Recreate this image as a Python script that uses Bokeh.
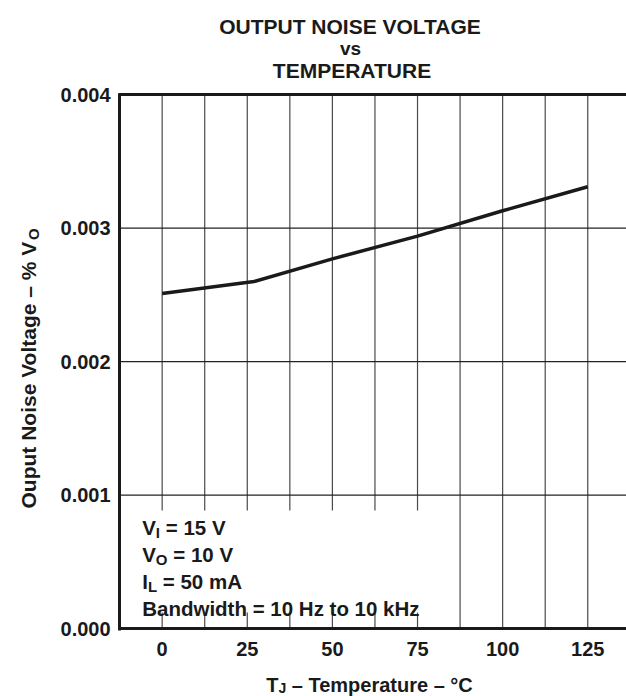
import math
from bokeh.plotting import figure
from bokeh.models import (Range1d, FixedTicker, PrintfTickFormatter, Label,
                          BoxAnnotation, LinearAxis)
from bokeh.embed import file_html
from bokeh.resources import INLINE

# ---------------- data ----------------
temperature_c = [0, 27, 50, 75, 100, 125]
noise_pct_vo = [0.00251, 0.00260, 0.00277, 0.00294, 0.00313, 0.00331]
x_major_ticks = [0, 25, 50, 75, 100, 125]
x_grid_ticks = [0, 12.5, 25, 37.5, 50, 62.5, 75, 87.5, 100, 112.5, 125, 137.5]
y_major_ticks = [0.000, 0.001, 0.002, 0.003, 0.004]
y_grid_ticks = [0.001, 0.002, 0.003]
x_lim = [-12.5, 137.5]
y_lim = [0.0, 0.004]

title_lines = ["OUTPUT NOISE VOLTAGE", "vs", "TEMPERATURE"]
cond_lines = [
    [("V", False), ("I", True), (" = 15 V", False)],
    [("V", False), ("O", True), (" = 10 V", False)],
    [("I", False), ("L", True), (" = 50 mA", False)],
    [("Bandwidth = 10 Hz to 10 kHz", False)],
]
x_label_parts = [("T", False), ("J", True), (" \u2013 Temperature \u2013 \u00b0C", False)]
y_label_parts = [("Ouput Noise Voltage \u2013 % V", False), ("O", True)]

# ---------------- layout ----------------
W, H = 626, 696
FONT = "Liberation Sans"
INK = "#1a1a1a"
PX_LEFT, SX = 119.1, 3.4048      # px of x=-12.5, px per degree
PX_BOTTOM, SY = 628.0, 133450.0  # px of y=0, px per unit

def px2x(px):
    return x_lim[0] + (px - PX_LEFT) / SX

def py2y(py):
    return (PX_BOTTOM - py) / SY

ADV = {'V': 667, ' ': 278, '=': 584, '1': 556, '5': 556, '0': 556, 'I': 278,
       'O': 778, 'L': 611, 'm': 889, 'A': 722, 'T': 611, 'J': 556, '\u2013': 556,
       'e': 556, 'p': 611, 'r': 389, 'a': 556, 't': 333, 'u': 611, '\u00b0': 400,
       'C': 722, 'N': 722, 'o': 611, 'i': 278, 's': 556, 'l': 278, 'g': 611,
       '%': 889, 'B': 722, 'n': 611, 'd': 611, 'w': 778, 'h': 611, 'H': 722,
       'z': 500, 'k': 556, 'v': 556, 'S': 667, 'E': 667, 'G': 778, 'U': 722,
       'P': 667, 'M': 833, 'R': 722}

def text_w(s, size):
    return sum(ADV.get(c, 556) for c in s) * size / 1000.0

p = figure(width=W, height=H, output_backend="svg", toolbar_location=None,
           x_range=Range1d(px2x(0), px2x(W)), y_range=Range1d(py2y(H), py2y(0)),
           x_axis_location=None, y_axis_location=None,
           min_border_left=0, min_border_right=0, min_border_top=0,
           min_border_bottom=0)
p.outline_line_color = None
p.background_fill_color = "white"
p.border_fill_color = "white"
for g in p.grid:
    g.visible = False

# grid lines, limited to the plot box
p.segment(x0=x_grid_ticks, y0=[y_lim[0]] * len(x_grid_ticks),
          x1=x_grid_ticks, y1=[y_lim[1]] * len(x_grid_ticks),
          line_color="#4a4a4a", line_width=1.2)
p.segment(x0=[x_lim[0]] * len(y_grid_ticks), y0=y_grid_ticks,
          x1=[x_lim[1]] * len(y_grid_ticks), y1=y_grid_ticks,
          line_color="#222222", line_width=1.3)

# data curve
p.line(temperature_c, noise_pct_vo, line_color=INK, line_width=3.5)

def style_axis(ax):
    ax.axis_line_color = INK
    ax.axis_line_width = 3
    ax.major_tick_line_color = None
    ax.minor_tick_line_color = None
    ax.major_tick_out = 0
    ax.major_tick_in = 0
    ax.minor_tick_out = 0
    ax.minor_tick_in = 0
    ax.major_label_text_font = FONT
    ax.major_label_text_font_style = "bold"
    ax.major_label_text_font_size = "20px"
    ax.major_label_text_color = INK

xpad = 1.5 / SX
ypad = 1.5 / SY
xaxis = LinearAxis(fixed_location=y_lim[0], bounds=(x_lim[0] - xpad, x_lim[1]),
                   ticker=FixedTicker(ticks=x_major_ticks))
style_axis(xaxis)
xaxis.major_label_standoff = 13
p.add_layout(xaxis, "below")

yaxis = LinearAxis(fixed_location=x_lim[0], bounds=(y_lim[0] - ypad, y_lim[1] + ypad),
                   ticker=FixedTicker(ticks=y_major_ticks),
                   formatter=PrintfTickFormatter(format="%.3f"))
style_axis(yaxis)
yaxis.major_label_standoff = 9
p.add_layout(yaxis, "left")

topaxis = LinearAxis(fixed_location=y_lim[1], bounds=(x_lim[0] - xpad, x_lim[1]),
                     ticker=FixedTicker(ticks=[]))
style_axis(topaxis)
topaxis.major_label_text_font_size = "0px"
p.add_layout(topaxis, "above")

# white box behind the test conditions
p.add_layout(BoxAnnotation(left=px2x(121.5), right=px2x(440), bottom=py2y(612),
                           top=py2y(510), fill_color="white", fill_alpha=1.0,
                           line_color=None))

def add_text(s, px, py, size, align="left", angle=0.0):
    p.add_layout(Label(x=px2x(px), y=py2y(py), text=s, text_font=FONT,
                       text_font_style="bold", text_font_size=f"{size}px",
                       text_color=INK, text_align=align,
                       text_baseline="alphabetic", angle=angle))

def parts_width(parts, main, sub):
    return sum(text_w(s, sub if is_sub else main) for s, is_sub in parts)

def rich_h(parts, x_start, baseline, main, sub, drop):
    x = x_start
    for s, is_sub in parts:
        size = sub if is_sub else main
        lead = len(s) - len(s.lstrip(" "))
        x += lead * ADV[" "] * size / 1000.0
        core = s.strip(" ")
        add_text(core, x, baseline + (drop if is_sub else 0), size)
        x += text_w(core, size)

# title
add_text(title_lines[0], 349.5, 25.7, 21, align="center")
add_text(title_lines[1], 350, 48.3, 19, align="center")
add_text(title_lines[2], 351.5, 70, 21, align="center")

# test conditions
for i, parts in enumerate(cond_lines):
    rich_h(parts, 141.7, 526.8 + i * 27.2, 20.5, 15, 5)

# x axis label
xw = parts_width(x_label_parts, 20, 15)
rich_h(x_label_parts, 370 - xw / 2.0, 684.5, 20, 14, 3)

# y axis label (rotated, reading upward)
ystart = 508
for s, is_sub in y_label_parts:
    size = 15 if is_sub else 21
    add_text(s, 28.3 + (5 if is_sub else 0), ystart, size, angle=math.pi / 2)
    ystart -= text_w(s, size)

open("out.html", "w").write(file_html(p, INLINE))
